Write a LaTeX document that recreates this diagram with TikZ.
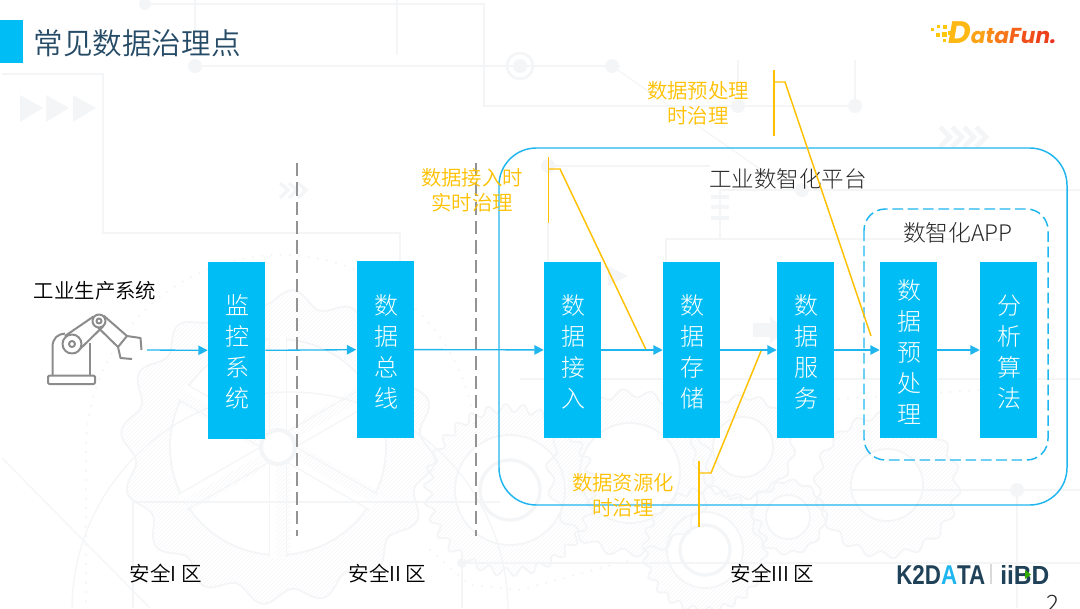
\documentclass[tikz,border=0pt]{standalone}
\usepackage{fontspec}
\setmainfont{Noto Sans CJK SC Light}
\newfontfamily\regfont{Noto Sans CJK SC DemiLight}
\newfontfamily\logofont{Poppins}
\newfontfamily\brandfont{Liberation Sans}
\usetikzlibrary{arrows.meta,patterns}
\definecolor{boxblue}{HTML}{00BEF5}
\definecolor{lineblue}{HTML}{1FB5EE}
\definecolor{callout}{HTML}{FFC000}
\definecolor{bgline}{HTML}{F4F5F7}
\definecolor{bgfill}{HTML}{F6F7F9}
\definecolor{titlecol}{HTML}{264B66}
\definecolor{inkcol}{HTML}{262626}
\definecolor{robotgray}{HTML}{8C8C8C}
\definecolor{brandcol}{HTML}{1F4259}
\newcommand{\bggear}[5]{%
  \draw[geartrack,even odd rule] plot[samples=300,domain=0:359]
   ({#1+(#3+0.05*#3*sin(#5*\x))*cos(\x)},{#2+(#3+0.05*#3*sin(#5*\x))*sin(\x)}) -- cycle
   (#1,#2) circle[radius=#4];}
\tikzset{
  bgtrack/.style={draw=bgline,line width=1pt},
  geartrack/.style={draw=bgline,pattern=north east lines,pattern color=bgfill,line width=1.4pt},
  bgdot/.style={fill=bgline,draw=none},
  bgdotted/.style={draw=bgline,line width=2pt,line cap=round,dash pattern=on 0pt off 7pt},
  procbox/.style={fill=boxblue,text=white,minimum width=42.75pt,minimum height=132.5pt,inner sep=0pt,align=center,
     font=\fontsize{18}{23.25}\selectfont},
  flow/.style={draw=lineblue,line width=1pt,-{Triangle[length=7pt,width=7pt,fill=lineblue]}},
  zone/.style={draw=gray!85,line width=1.2pt,dash pattern=on 10pt off 4.5pt},
  calloutline/.style={draw=callout,line width=1.1pt},
  callouttext/.style={text=callout,align=center,inner sep=0pt,font=\regfont\fontsize{15.3}{18.4}\selectfont},
  plainlabel/.style={text=inkcol,inner sep=0pt,align=center},
  robot/.style={draw=robotgray,line width=1.5pt,line join=round},
}
\begin{document}
\begin{tikzpicture}[x=0.75pt,y=-0.75pt]
\useasboundingbox (0,0) rectangle (1080,608);
\clip (0,0) rectangle (1080,608);
% faint background
\begin{scope}
\bggear{278}{447}{150}{108}{16}
\bggear{510}{490}{82}{55}{30}
\bggear{887}{485}{70}{36}{18}
\bggear{630}{473}{80}{50}{18}
\bggear{743}{447}{50}{30}{14}
\bggear{788}{517}{36}{22}{12}
\bggear{705}{550}{60}{38}{24}
\foreach \ang in {30,90,150,210,270,330}{
  \draw[draw=bgline,line width=14pt] (278,447) -- ++({\ang}:{110});
  \draw[draw=white,line width=12pt] (278,447) -- ++({\ang}:{111});
  \draw[pattern=north east lines,pattern color=bgfill,draw=none] (278,447) ++({\ang+5}:{20}) -- ++({\ang}:{90}) -- ++({\ang+90}:{-14}) -- ++({\ang}:{-90}) -- cycle;
}
\draw[bgtrack,line width=3pt,fill=white] (278,447) circle[radius=17];
\draw[bgtrack,line width=2.5pt] (705,550) circle[radius=25] (510,490) circle[radius=30];
\draw[bgtrack] (290,610) circle[radius=218];
\draw[bgdotted] (86,620) -- (86,450) arc[start angle=180,delta angle=175,radius=195];
\draw[bgdotted] (430,550) -- (470,585) -- (520,590) -- (630,560);
\draw[bgdotted] (820,400) -- (1060,385);
\draw[bgtrack] (145,4) -- (484,4) -- (484,106) -- (855,106) -- (855,60);
\draw[bgtrack] (195,0) -- (195,55) (397,0) -- (397,55);
\draw[bgtrack] (195,66) -- (620,66);
\draw[bgtrack] (612,66) -- (790,190);
\draw[bgtrack] (738,106) -- (738,60);
\draw[bgtrack] (2,74) -- (103,74) -- (103,233) -- (400,233) -- (400,262);
\draw[bgtrack] (550,166) -- (710,166);
\draw[bgtrack] (548,223) -- (548,262);
\draw[bgtrack] (720,190) -- (1080,190);
\draw[bgtrack] (720,190) -- (720,239);
\draw[bgtrack] (666,262) -- (666,239) -- (1000,239);
\draw[bgtrack] (520,379) -- (1080,379);
\draw[bgtrack] (133,608) -- (133,502) -- (500,502);
\draw[bgtrack] (850,490) -- (1080,490);
\draw[bgtrack] (1017,490) -- (1017,608);
\draw[bgtrack] (462,563) -- (1080,563);
\draw[bgtrack] (462,563) -- (462,608);
\draw[bgtrack] (2,458) -- (150,608);
\fill[bgdot] (145,4) circle[radius=6] (195,66) circle[radius=7] (612,66) circle[radius=7]
  (738,106) circle[radius=7] (855,106) circle[radius=7] (802,190) circle[radius=7]
  (548,166) circle[radius=7] (462,563) circle[radius=5] (1017,490) circle[radius=7];
\draw[bgtrack,line width=2pt] (520,66) circle[radius=13];
\fill[bgdot] (520,66) circle[radius=7];
\fill[bgdot] (20,95) -- (43,108) -- (20,122) -- cycle (46,95) -- (69,108) -- (46,122) -- cycle (73,95) -- (96,108) -- (73,122) -- cycle;
\fill[bgdot] (608,266) -- (628,276) -- (608,286) -- cycle;
\fill[bgdot] (753,323) -- (770,323) -- (770,316) -- (785,330) -- (770,344) -- (770,337) -- (753,337) -- cycle;
\foreach \cx in {950,962,974,986}{\draw[bgtrack,line width=3.5pt] (\cx-10,127) -- (\cx,137) -- (\cx-10,147);}
\foreach \cx in {288,297,306}{\draw[bgtrack,line width=2.5pt] (\cx-8,183) -- (\cx,190) -- (\cx-8,198);}
\foreach \cy in {197,207,218}{\draw[bgtrack,line width=3.5pt] (711,\cy) -- (729,\cy);}
\end{scope}
% title
\fill[boxblue] (0,20) rectangle (23,63);
\node[inner sep=0pt,text=titlecol,font=\regfont\fontsize{22.2}{26}\selectfont] (title) at (137,43) {常见数据治理点};
% logos
\foreach \px/\py/\s/\c in {931/28/3/FDC70C,937/25/3/FDC70C,943/25/4/FDC70C,936/33/4/FDC70C,942/32/5/FDC70C,948/31/4/FDC70C,943/39/3/FDC70C}{
  \definecolor{dotc}{HTML}{\c}
  \fill[dotc] (\px,\py) rectangle (\px+\s,\py+\s);}
\definecolor{lgA}{HTML}{FDB813}\definecolor{lgB}{HTML}{FBA317}\definecolor{lgC}{HTML}{F98D18}\definecolor{lgD}{HTML}{F7781A}
\definecolor{lgE}{HTML}{F4631A}\definecolor{lgF}{HTML}{F1501A}\definecolor{lgG}{HTML}{EE3F1B}\definecolor{lgH}{HTML}{E8301B}
\node[anchor=base west,inner sep=0pt,font=\logofont\bfseries\itshape\fontsize{19.5}{20}\selectfont] (datafun) at (948,43.5)
 {\resizebox{81pt}{!}{\textcolor{lgA}{\fontsize{28}{30}\selectfont D}\textcolor{lgB}{a}\textcolor{lgC}{t}\textcolor{lgD}{a}\textcolor{lgE}{F}\textcolor{lgF}{u}\textcolor{lgG}{n}\textcolor{lgH}{.}}};
\node[anchor=base west,inner sep=0pt,text=brandcol,font=\brandfont\bfseries\fontsize{19.5}{20}\selectfont] (k2) at (896,584)
 {\resizebox{66.75pt}{14.25pt}{K2D\textcolor{lineblue}{A}TA}};
\draw[draw=gray!30,line width=.8pt] (991,564) -- (991,584);
\node[anchor=base west,inner sep=0pt,text=brandcol,font=\brandfont\bfseries\fontsize{19.5}{20}\selectfont] (iibd) at (1000,584)
 {\resizebox{36.75pt}{14.25pt}{iiBD}};
\fill[green!60!black!80!yellow] (1025,570) -- (1031,574.5) -- (1025,579) -- cycle;
\node[anchor=base,inner sep=0pt,text=inkcol,font=\fontsize{18}{20}\selectfont] (pagenum) at (1053,612) {2};
% zone separators
\draw[zone] (297,163) -- (297,536);
\draw[zone] (476,163) -- (476,536);
% containers
\draw[draw=lineblue,line width=1.1pt,rounded corners=28pt] (499,148) rectangle (1067,505);
\draw[draw=lineblue,line width=1.1pt,rounded corners=16pt,dash pattern=on 8pt off 3.5pt] (864,209) rectangle (1048,460);
\node[plainlabel,font=\fontsize{16.9}{20}\selectfont] (platform) at (788,178.5) {工业数智化平台};
\node[plainlabel,font=\fontsize{17.1}{20}\selectfont] (app) at (958,233) {数智化APP};
% process boxes (text nudged down inside the box via a strut line)
\tikzset{boxtext/.style={text=white,inner sep=0pt,align=center,font=\fontsize{18}{23.25}\selectfont}}
\node[procbox] (mon) at (236.5,350.5) {}; \node[boxtext] (montext) at (237,352) {监\\控\\系\\统};
\node[procbox] (bus) at (385,349.5) {}; \node[boxtext] (bustext) at (386,352) {数\\据\\总\\线};
\node[procbox] (acc) at (572.5,350) {}; \node[boxtext] (acctext) at (573,352) {数\\据\\接\\入};
\node[procbox] (sto) at (691.5,350) {}; \node[boxtext] (stotext) at (692,352) {数\\据\\存\\储};
\node[procbox] (srv) at (805.5,350) {}; \node[boxtext] (srvtext) at (806,352) {数\\据\\服\\务};
\node[procbox] (pre) at (908.5,350) {}; \node[boxtext] (pretext) at (909,352) {数\\据\\预\\处\\理};
\node[procbox] (alg) at (1008.5,350) {}; \node[boxtext] (algtext) at (1009,352) {分\\析\\算\\法};
% source label and robot
\node[plainlabel,text=black,font=\regfont\fontsize{15.3}{18}\selectfont] (source) at (95,291) {工业生产系统};
\draw[robot,rounded corners=1pt] (48,384) rectangle (95,375.5);
\draw[robot] (52.5,375.5) -- (52.5,347) .. controls (52.5,338) and (58,334) .. (65,333.5);
\draw[robot] (89.5,375.5) -- (89.5,343);
\draw[robot] (72,344) circle[radius=9.5];
\draw[robot] (72,344) circle[radius=3];
\draw[robot] (99,321) circle[radius=6.5];
\draw[robot] (99,321) circle[radius=2.5];
\draw[robot] (65,336) -- (93.5,316.5);
\draw[robot] (79,350) -- (103.5,326);
\draw[robot] (103.5,315.5) -- (127,336);
\draw[robot] (98,327.5) -- (118,347);
\draw[robot] (127,336) -- (118,347);
\draw[robot] (127,336) -- (140.5,338) -- (141.5,350);
\draw[robot] (118,347) -- (120.5,358) -- (132,359);
\coordinate (robotout) at (147,350);
% flow
\draw[flow] (robotout) -- (mon);
\draw[flow] (mon) -- (bus);
\draw[flow] (bus) -- (acc);
\draw[flow] (acc) -- (sto);
\draw[flow] (sto) -- (srv);
\draw[flow] (srv) -- (pre);
\draw[flow] (pre) -- (alg);
% callouts
\coordinate (a1) at (548.5,157); \coordinate (a2) at (548.5,223); \coordinate (a3) at (548.5,169); \coordinate (a4) at (560,169); \coordinate (a5) at (645.7,349);
\draw[calloutline] (a1) -- (a2);
\draw[calloutline] (a3) -- (a4) -- (a5);
\coordinate (b1) at (774,70); \coordinate (b2) at (774,136); \coordinate (b3) at (774,82); \coordinate (b4) at (785,82); \coordinate (b5) at (871,336);
\draw[calloutline] (b1) -- (b2);
\draw[calloutline] (b3) -- (b4) -- (b5);
\coordinate (c1) at (699,461); \coordinate (c2) at (699,527); \coordinate (c3) at (699,473); \coordinate (c4) at (711,473); \coordinate (c5) at (761,351);
\draw[calloutline] (c1) -- (c2);
\draw[calloutline] (c3) -- (c4) -- (c5);
\node[callouttext] (t1) at (472,190.5) {数据接入时\\实时治理};
\node[callouttext] (t2) at (698,103.5) {数据预处理\\时治理};
\node[callouttext] (t3) at (623,495) {数据资源化\\时治理};
% zones
\node[plainlabel,text=black,font=\regfont\fontsize{15.4}{18}\selectfont] (z1) at (165.5,573.5) {安全I 区};
\node[plainlabel,text=black,font=\regfont\fontsize{15.4}{18}\selectfont] (z2) at (387.5,573.5) {安全II 区};
\node[plainlabel,text=black,font=\regfont\fontsize{15.4}{18}\selectfont] (z3) at (772.5,573.5) {安全III 区};
\end{tikzpicture}
\end{document}
